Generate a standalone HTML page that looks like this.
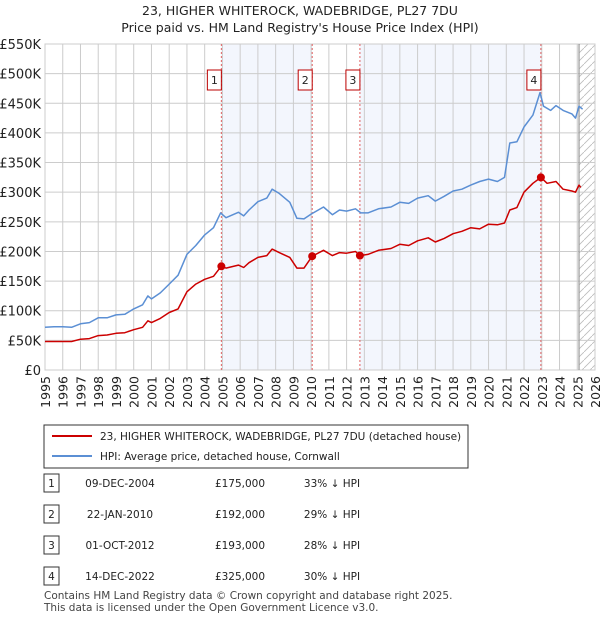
<!DOCTYPE html>
<html><head><meta charset="utf-8">
<style>
body{margin:0;background:#fff;font-family:"Liberation Sans","DejaVu Sans",sans-serif;}
#wrap{position:relative;width:600px;height:620px;overflow:hidden;}
svg text{font-family:"DejaVu Sans","Liberation Sans",sans-serif;}
</style></head><body>
<div id="wrap">
<svg id="svg" width="600" height="620">
<text x="300" y="15" text-anchor="middle" font-size="12.5" fill="#222">23, HIGHER WHITEROCK, WADEBRIDGE, PL27 7DU</text>
<text x="300" y="32" text-anchor="middle" font-size="12.5" fill="#222">Price paid vs. HM Land Registry's House Price Index (HPI)</text>
<g id="plot"></g>
<rect x="44" y="425" width="424" height="43" fill="#fff" stroke="#333"/>
<line x1="52" y1="436" x2="92" y2="436" stroke="#cc0000" stroke-width="2"/>
<text x="100" y="440" font-size="10.5" fill="#222">23, HIGHER WHITEROCK, WADEBRIDGE, PL27 7DU (detached house)</text>
<line x1="52" y1="456" x2="92" y2="456" stroke="#5b8fd4" stroke-width="2"/>
<text x="100" y="460" font-size="10.5" fill="#222">HPI: Average price, detached house, Cornwall</text>
<g id="table"></g>
<text x="44" y="599" font-size="10.5" fill="#444">Contains HM Land Registry data © Crown copyright and database right 2025.</text>
<text x="44" y="611" font-size="10.5" fill="#444">This data is licensed under the Open Government Licence v3.0.</text>
</svg>
</div>
<script>
const hpiYears=[1995,1995.5,1996,1996.5,1997,1997.5,1998,1998.5,1999,1999.5,2000,2000.5,2000.8,2001,2001.5,2002,2002.5,2003,2003.5,2004,2004.5,2004.9,2005.2,2005.9,2006.2,2006.5,2007,2007.5,2007.8,2008.2,2008.8,2009.2,2009.6,2010,2010.7,2011.2,2011.6,2012,2012.5,2012.8,2013.2,2013.8,2014.5,2015,2015.5,2016,2016.6,2017,2017.5,2018,2018.5,2019,2019.5,2020,2020.5,2020.9,2021.2,2021.6,2022,2022.5,2022.9,2023.1,2023.5,2023.8,2024.2,2024.7,2024.9,2025.1,2025.3];
const hpiValues=[72,73,73,72,78,80,88,88,93,94,103,110,125,120,130,145,160,195,210,228,240,265,257,266,260,270,284,290,305,298,283,256,255,263,275,262,270,268,272,265,265,272,275,283,281,290,294,285,293,302,305,312,318,322,318,325,383,385,410,430,468,445,438,446,438,432,425,445,440];
const ppYears=[1995,1995.5,1996,1996.5,1997,1997.5,1998,1998.5,1999,1999.5,2000,2000.5,2000.8,2001,2001.5,2002,2002.5,2003,2003.5,2004,2004.5,2004.93,2005.2,2005.9,2006.2,2006.5,2007,2007.5,2007.8,2008.2,2008.8,2009.2,2009.6,2010.06,2010.7,2011.2,2011.6,2012,2012.5,2012.75,2013.2,2013.8,2014.5,2015,2015.5,2016,2016.6,2017,2017.5,2018,2018.5,2019,2019.5,2020,2020.5,2020.9,2021.2,2021.6,2022,2022.5,2022.95,2023.3,2023.8,2024.2,2024.7,2024.9,2025.1,2025.2];
const ppValues=[48,48,48,48,52,53,58,59,62,63,68,72,83,80,87,97,103,132,145,153,158,175,172,177,173,181,190,193,204,198,190,172,172,192,202,193,198,197,200,193,195,202,205,212,210,218,223,216,222,230,234,240,238,246,245,248,270,274,300,315,325,315,318,305,302,300,312,308];
const saleYears=[2004.94,2010.06,2012.75,2022.95];
const salePrices=[175,192,193,325];
const saleLabels=["1","2","3","4"];
const saleDates=["09-DEC-2004","22-JAN-2010","01-OCT-2012","14-DEC-2022"];
const salePriceText=["£175,000","£192,000","£193,000","£325,000"];
const saleHpiText=["33% ↓ HPI","29% ↓ HPI","28% ↓ HPI","30% ↓ HPI"];
const yTicks=[0,50,100,150,200,250,300,350,400,450,500,550];
const yTickLabels=["£0","£50K","£100K","£150K","£200K","£250K","£300K","£350K","£400K","£450K","£500K","£550K"];
const xTicks=[1995,1996,1997,1998,1999,2000,2001,2002,2003,2004,2005,2006,2007,2008,2009,2010,2011,2012,2013,2014,2015,2016,2017,2018,2019,2020,2021,2022,2023,2024,2025,2026];
const endYear=2025.1;

const NS="http://www.w3.org/2000/svg";
const X0=45,X1=595,Y0=370,Y1=44;
const xs=y=>X0+(y-1995)/(2026-1995)*(X1-X0);
const ys=v=>Y0-v/550*(Y0-Y1);
const g=document.getElementById('plot');
function mk(tag,attrs,parent){const e=document.createElementNS(NS,tag);for(const k in attrs)e.setAttribute(k,attrs[k]);(parent||g).appendChild(e);return e;}
[[0,1],[2,3]].forEach((p,i)=>{
 const r=mk('rect',{x:xs(saleYears[p[0]]),y:Y1,width:xs(saleYears[p[1]])-xs(saleYears[p[0]]),height:Y0-Y1,fill:'#f3f6fd'});
 
 
});
const defs=mk('defs',{});
const pat=mk('pattern',{id:'hatch',width:8,height:8,patternUnits:'userSpaceOnUse'},defs);
mk('path',{d:'M0,8 L8,0',stroke:'#bbb','stroke-width':0.8},pat);
const hr=mk('rect',{x:xs(endYear),y:Y1,width:X1-xs(endYear),height:Y0-Y1,fill:'url(#hatch)'});


yTicks.forEach((v,i)=>{
 const l=mk('line',{x1:X0,x2:X1,y1:ys(v),y2:ys(v),stroke:'#ccc','stroke-width':1});
 
 
 const t=mk('text',{x:X0-4,y:ys(v)+5,'text-anchor':'end','font-size':13,fill:'#222'});
 t.textContent=yTickLabels[i];
 
 
});
xTicks.forEach(yr=>{
 const l=mk('line',{x1:xs(yr),x2:xs(yr),y1:Y1,y2:Y0,stroke:'#ccc','stroke-width':1});
 
 
 const t=mk('text',{x:0,y:0,'text-anchor':'end','font-size':12.5,fill:'#222',transform:`translate(${xs(yr)+5},376) rotate(-90)`});
 t.textContent=yr;
 
 
});
const br=mk('rect',{x:X0,y:Y1,width:X1-X0,height:Y0-Y1,fill:'none',stroke:'#ccc'});


const el=mk('line',{x1:xs(endYear),x2:xs(endYear),y1:Y1,y2:Y0,stroke:'#999','stroke-width':1.2});


saleYears.forEach((yr,i)=>{
 const l=mk('line',{x1:xs(yr),x2:xs(yr),y1:Y1,y2:Y0,stroke:'#e06060','stroke-width':1,'stroke-dasharray':'2,2'});
 
 
});
function line(xa,va,color,name){
 const d=xa.map((x,i)=>(i?'L':'M')+xs(x).toFixed(1)+','+ys(va[i]).toFixed(1)).join(' ');
 const p=mk('path',{d:d,fill:'none',stroke:color,'stroke-width':1.5,'stroke-linejoin':'round'});
 
 
}
line(hpiYears,hpiValues,'#5b8fd4','hpi-line');
line(ppYears,ppValues,'#cc0000','price-paid-line');
saleYears.forEach((yr,i)=>{
 const c=mk('circle',{cx:xs(yr),cy:ys(salePrices[i]),r:4,fill:'#cc0000'});
 
 
 const b=mk('rect',{x:xs(yr)-14,y:70,width:14,height:20,fill:'#fff',stroke:'#b00'});
 
 
 const t=mk('text',{x:xs(yr)-7,y:84,'text-anchor':'middle','font-size':11,fill:'#222'});
 t.textContent=saleLabels[i];
 
 
});
const tb=document.getElementById('table');
saleLabels.forEach((lab,i)=>{
 const cy=483+i*31;
 const b=mk('rect',{x:44,y:cy-9,width:15,height:18,fill:'#fff',stroke:'#333'},tb);
 
 
 const cells=[[lab,51.5,'middle'],[saleDates[i],120,'middle'],[salePriceText[i],240,'middle'],[saleHpiText[i],332,'middle']];
 cells.forEach((c,j)=>{
  const t=mk('text',{x:c[1],y:cy+4,'text-anchor':c[2],'font-size':10.5,fill:'#222'},tb);
  t.textContent=c[0];
  
  
 });
});
</script>
</body></html>
